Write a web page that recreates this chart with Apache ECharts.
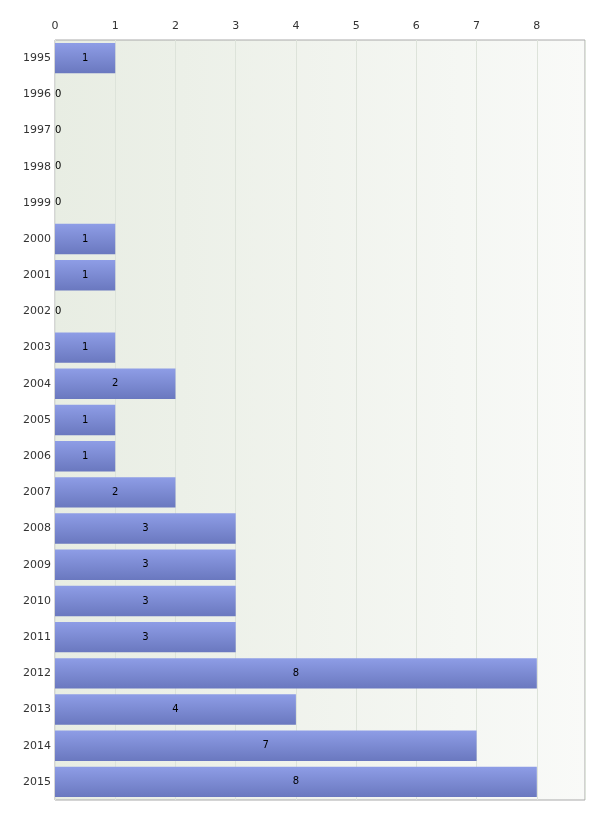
<!DOCTYPE html>
<html>
<head>
<meta charset="utf-8">
<script src="https://cdn.jsdelivr.net/npm/echarts@6/dist/echarts.min.js"></script>
<style>html,body{margin:0;padding:0;background:#fff}#main{width:600px;height:817px}</style>
</head>
<body>
<div id="main"></div>
<script>
var years = ['1995','1996','1997','1998','1999','2000','2001','2002','2003','2004','2005','2006','2007','2008','2009','2010','2011','2012','2013','2014','2015'];
var counts = [1,0,0,0,0,1,1,0,1,2,1,1,2,3,3,3,3,8,4,7,8];

var myChart = echarts.init(document.getElementById('main'), null, {renderer: 'canvas'});

var barData = counts.map(function (v) {
  var item = {value: v};
  if (v === 0) {
    item.label = {position: 'insideLeft', offset: [-5, 0]};
  }
  return item;
});

var option = {
  animation: false,
  grid: {
    left: 55, right: 15, top: 40, bottom: 17,
    show: true,
    borderColor: '#aaa',
    borderWidth: 1,
    backgroundColor: new echarts.graphic.LinearGradient(0, 0, 1, 0, [
      {offset: 0, color: '#e8ede3'},
      {offset: 1, color: '#f9faf8'}
    ])
  },
  xAxis: {
    type: 'value',
    position: 'top',
    min: 0,
    max: 8.8,
    interval: 1,
    axisLine: {show: false},
    axisTick: {show: false},
    axisLabel: {
      color: '#333', fontSize: 11, fontFamily: 'DejaVu Sans',
      showMaxLabel: false,
      formatter: function (v) { return Number.isInteger(v) ? v : ''; }
    },
    splitLine: {lineStyle: {color: '#dde3da'}}
  },
  yAxis: {
    type: 'category',
    inverse: true,
    data: years,
    axisLine: {show: false},
    axisTick: {show: false},
    axisLabel: {color: '#333', fontSize: 11, fontFamily: 'DejaVu Sans', margin: 4}
  },
  series: [{
    type: 'bar',
    data: barData,
    barCategoryGap: '16%',
    itemStyle: {
      color: new echarts.graphic.LinearGradient(0, 0, 0, 1, [
        {offset: 0, color: '#8e9de6'},
        {offset: 1, color: '#6a78bf'}
      ])
    },
    label: {
      show: true,
      position: 'inside',
      color: '#000',
      fontSize: 10,
      fontFamily: 'DejaVu Sans'
    }
  }]
};

myChart.setOption(option);
</script>
</body>
</html>
